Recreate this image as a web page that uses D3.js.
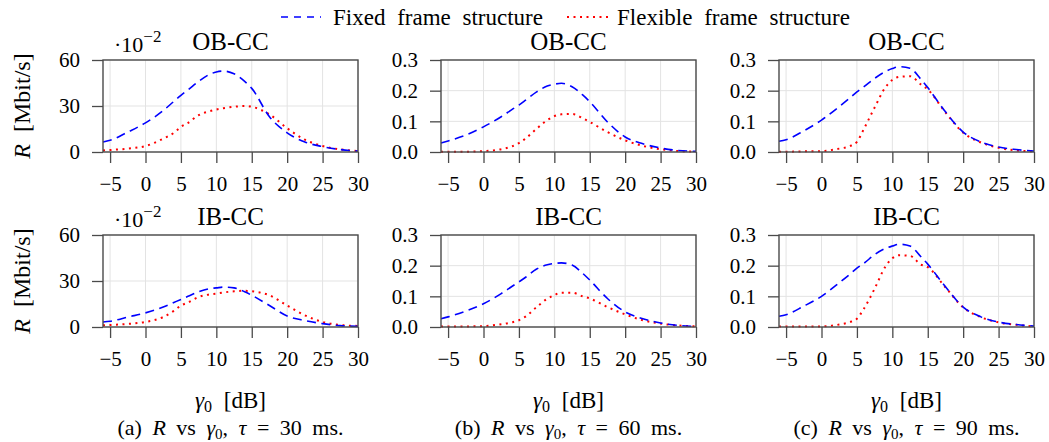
<!DOCTYPE html>
<html>
<head>
<meta charset="utf-8">
<script src="https://cdn.jsdelivr.net/npm/d3@7"></script>
<style>
body { margin: 0; background: #fff; }
svg, text { font-family: "Liberation Serif", "Times New Roman", serif; fill: #000; }
</style>
</head>
<body>
<svg id="chart" width="1049" height="442"></svg>
<script>
// gamma_0 [dB] sample points (shared by every curve)
const gamma = [-6, -5, -2.5, 0, 2.5, 4, 5, 6, 7.5, 9, 10, 11, 12.5, 14, 15, 17.5, 20, 22.5, 25, 27.5, 30];

// tau = 30 ms (values in 1e-2 Mbit/s)
const fixedOB30 = [6.5, 7.6, 13, 19, 27, 33, 37, 40.5, 46, 50.5, 52.2, 52.8, 51, 46, 41.5, 23, 12.5, 6.5, 3.5, 1.6, 0.6];
const flexOB30  = [1, 1.3, 2.2, 3.9, 8.7, 12.5, 16.4, 19, 24, 26.5, 27.7, 28.6, 29.5, 30, 29.5, 24.5, 15.5, 8, 3.9, 1.7, 0.6];
const fixedIB30 = [3.3, 3.7, 6.5, 9.2, 13, 16, 18, 20, 23, 25, 25.5, 26, 25.5, 23, 20.7, 14, 7.2, 4.2, 2.2, 0.9, 0.4];
const flexIB30  = [1.1, 1.3, 2, 3.3, 6.5, 10.5, 14, 16, 19.6, 21.2, 21.8, 22.5, 23.3, 23.6, 23.3, 20.7, 14, 7.6, 3.3, 1.3, 0.7];

// tau = 60 ms (Mbit/s)
const fixedOB60 = [0.029, 0.036, 0.055, 0.082, 0.115, 0.138, 0.153, 0.170, 0.196, 0.215, 0.221, 0.224, 0.213, 0.186, 0.164, 0.098, 0.049, 0.027, 0.013, 0.005, 0.002];
const flexOB60  = [0.001, 0.001, 0.001, 0.003, 0.009, 0.018, 0.029, 0.045, 0.076, 0.104, 0.117, 0.123, 0.124, 0.110, 0.098, 0.065, 0.038, 0.020, 0.009, 0.003, 0.001];
const fixedIB60 = [0.027, 0.033, 0.052, 0.076, 0.109, 0.132, 0.147, 0.163, 0.189, 0.203, 0.207, 0.209, 0.202, 0.175, 0.153, 0.093, 0.049, 0.027, 0.013, 0.005, 0.002];
const flexIB60  = [0.002, 0.002, 0.002, 0.003, 0.009, 0.015, 0.022, 0.035, 0.065, 0.092, 0.104, 0.112, 0.112, 0.100, 0.093, 0.065, 0.041, 0.022, 0.011, 0.005, 0.002];

// tau = 90 ms (Mbit/s)
const fixedOB90 = [0.035, 0.040, 0.069, 0.104, 0.148, 0.176, 0.196, 0.213, 0.240, 0.262, 0.272, 0.278, 0.273, 0.238, 0.210, 0.131, 0.065, 0.033, 0.016, 0.008, 0.003];
const flexOB90  = [0.001, 0.001, 0.002, 0.003, 0.011, 0.019, 0.033, 0.076, 0.145, 0.210, 0.235, 0.245, 0.247, 0.221, 0.204, 0.129, 0.063, 0.031, 0.014, 0.005, 0.002];
const fixedIB90 = [0.035, 0.040, 0.068, 0.100, 0.144, 0.172, 0.192, 0.208, 0.236, 0.256, 0.264, 0.270, 0.264, 0.230, 0.205, 0.131, 0.065, 0.033, 0.016, 0.008, 0.003];
const flexIB90  = [0.002, 0.002, 0.002, 0.002, 0.008, 0.016, 0.027, 0.060, 0.125, 0.196, 0.224, 0.234, 0.232, 0.204, 0.195, 0.129, 0.064, 0.032, 0.015, 0.007, 0.002];

const xTicks = [-5, 0, 5, 10, 15, 20, 25, 30];
const yTicksSmall = [0, 30, 60];
const yTicks = [0, 0.1, 0.2, 0.3];
const legendLabels = ["Fixed frame structure", "Flexible frame structure"];
const captions = [["(a)", "30"], ["(b)", "60"], ["(c)", "90"]];

const FONT = '"Liberation Serif", "Times New Roman", serif';
const svg = d3.select("#chart").attr("font-family", FONT);

const colX = [103, 441, 779];
const rowY = [60, 235];
const W = 255, H = 92;
const frameColor = "#4a4a4a";

const panels = [
    {col: 0, row: 0, title: "OB-CC", fixed: fixedOB30, flex: flexOB30, yMax: 60, ticks: yTicksSmall, fmt: d3.format("d"), scaled: true},
    {col: 0, row: 1, title: "IB-CC", fixed: fixedIB30, flex: flexIB30, yMax: 60, ticks: yTicksSmall, fmt: d3.format("d"), scaled: true},
    {col: 1, row: 0, title: "OB-CC", fixed: fixedOB60, flex: flexOB60, yMax: 0.3, ticks: yTicks, fmt: d3.format(".1f")},
    {col: 1, row: 1, title: "IB-CC", fixed: fixedIB60, flex: flexIB60, yMax: 0.3, ticks: yTicks, fmt: d3.format(".1f")},
    {col: 2, row: 0, title: "OB-CC", fixed: fixedOB90, flex: flexOB90, yMax: 0.3, ticks: yTicks, fmt: d3.format(".1f")},
    {col: 2, row: 1, title: "IB-CC", fixed: fixedIB90, flex: flexIB90, yMax: 0.3, ticks: yTicks, fmt: d3.format(".1f")}
];

panels.forEach(p => {
    const g = svg.append("g")
        .attr("transform", `translate(${colX[p.col]},${rowY[p.row]})`);
    const x = d3.scaleLinear().domain([-6, 30]).range([0, W]);
    const y = d3.scaleLinear().domain([0, p.yMax]).range([H, 0]);

    // grid
    g.append("g").selectAll("line").data(xTicks).join("line")
        .attr("x1", d => x(d)).attr("x2", d => x(d))
        .attr("y1", 0).attr("y2", H)
        .attr("stroke", "#e3e3e3").attr("stroke-width", 1);
    g.append("g").selectAll("line").data(p.ticks).join("line")
        .attr("x1", 0).attr("x2", W)
        .attr("y1", d => y(d)).attr("y2", d => y(d))
        .attr("stroke", "#e3e3e3").attr("stroke-width", 1);

    // curves
    const line = d3.line()
        .x((d, i) => x(gamma[i]))
        .y(d => y(d))
        .curve(d3.curveMonotoneX);
    g.append("path").datum(p.flex)
        .attr("d", line)
        .attr("fill", "none")
        .attr("stroke", "#ff0000")
        .attr("stroke-width", 2)
        .attr("stroke-dasharray", "2,4.5");
    g.append("path").datum(p.fixed)
        .attr("d", line)
        .attr("fill", "none")
        .attr("stroke", "#0000ff")
        .attr("stroke-width", 1.6)
        .attr("stroke-dasharray", "9,5.5");

    // axes
    const xa = g.append("g")
        .attr("transform", `translate(0,${H})`)
        .call(d3.axisBottom(x).tickValues(xTicks).tickSize(11).tickSizeOuter(0).tickPadding(13)
            .tickFormat(d3.format("d")));
    const ya = g.append("g")
        .call(d3.axisLeft(y).tickValues(p.ticks).tickSize(11).tickSizeOuter(0).tickPadding(12)
            .tickFormat(p.fmt));
    [xa, ya].forEach(a => {
        a.attr("font-family", FONT).attr("font-size", 21);
        a.select(".domain").remove();
        a.selectAll("line").attr("stroke", frameColor).attr("stroke-width", 1.3);
        a.selectAll("text").attr("fill", "#000");
    });

    g.append("rect")
        .attr("width", W).attr("height", H)
        .attr("fill", "none")
        .attr("stroke", frameColor)
        .attr("stroke-width", 1.4);

    g.append("text")
        .attr("x", W / 2).attr("y", -10)
        .attr("text-anchor", "middle")
        .style("font-size", "25px")
        .text(p.title);

    if (p.scaled) {
        const t = g.append("text")
            .attr("x", 11).attr("y", -8)
            .style("font-size", "22px");
        t.append("tspan").text("\u00b710");
        t.append("tspan").attr("dy", -10).style("font-size", "17px").text("\u22122");
    }
});

// y axis labels
rowY.forEach(r => {
    const t = svg.append("text")
        .attr("transform", `translate(30,${r + H / 2}) rotate(-90)`)
        .attr("text-anchor", "middle")
        .style("font-size", "24px")
        .style("word-spacing", "6px");
    t.append("tspan").style("font-style", "italic").text("R");
    t.append("tspan").text(" [Mbit/s]");
});

// x axis labels and captions
colX.forEach((cx, i) => {
    const mid = cx + W / 2;
    const xl = svg.append("text")
        .attr("x", mid).attr("y", 408)
        .attr("text-anchor", "middle")
        .style("font-size", "23px")
        .style("word-spacing", "6px");
    xl.append("tspan").style("font-style", "italic").text("\u03b3");
    xl.append("tspan").attr("dy", 4).style("font-size", "16px").text("0");
    xl.append("tspan").attr("dy", -4).text(" [dB]");

    const cap = svg.append("text")
        .attr("x", mid).attr("y", 435)
        .attr("text-anchor", "middle")
        .style("font-size", "22px")
        .style("word-spacing", "5px");
    cap.append("tspan").text(captions[i][0] + " ");
    cap.append("tspan").style("font-style", "italic").text("R");
    cap.append("tspan").text(" vs ");
    cap.append("tspan").style("font-style", "italic").text("\u03b3");
    cap.append("tspan").attr("dy", 4).style("font-size", "15px").text("0");
    cap.append("tspan").attr("dy", -4).text(", ");
    cap.append("tspan").style("font-style", "italic").text("\u03c4");
    cap.append("tspan").text(" = " + captions[i][1] + " ms.");
});

// legend
const legend = svg.append("g");
legend.append("line")
    .attr("x1", 281).attr("x2", 321).attr("y1", 17).attr("y2", 17)
    .attr("stroke", "#0000ff").attr("stroke-width", 1.6).attr("stroke-dasharray", "7,6");
legend.append("text")
    .attr("x", 333).attr("y", 25)
    .style("font-size", "23px").style("word-spacing", "6px")
    .text(legendLabels[0]);
legend.append("line")
    .attr("x1", 567).attr("x2", 609).attr("y1", 17).attr("y2", 17)
    .attr("stroke", "#ff0000").attr("stroke-width", 2).attr("stroke-dasharray", "2,4.5");
legend.append("text")
    .attr("x", 617).attr("y", 25)
    .style("font-size", "23px").style("word-spacing", "6px")
    .text(legendLabels[1]);
</script>
</body>
</html>
